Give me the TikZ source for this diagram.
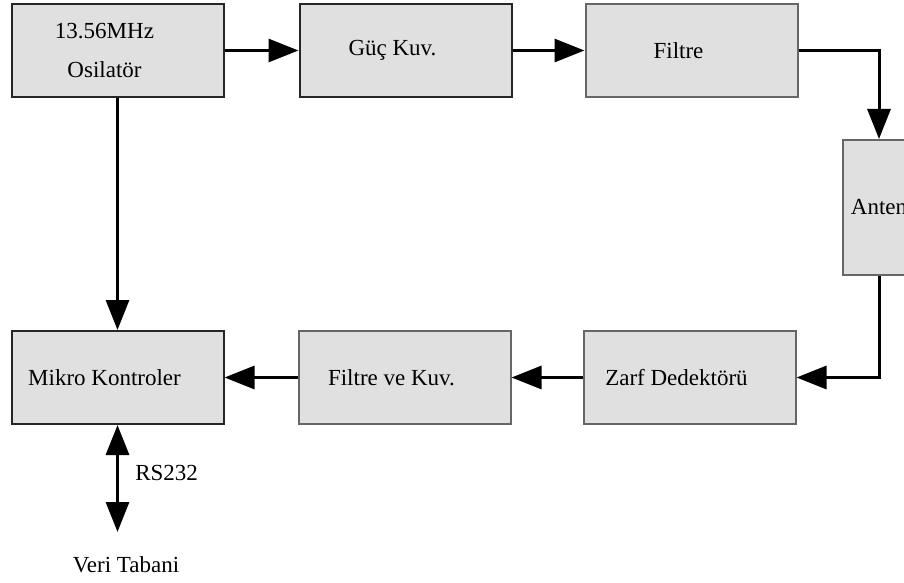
\documentclass[tikz,border=0pt]{standalone}
\usepackage{fontspec}
\setmainfont{Liberation Serif}
\usetikzlibrary{positioning,arrows.meta}

\begin{document}
\begin{tikzpicture}[x=1pt, y=-1pt,
	font=\fontsize{23}{27}\selectfont,
	block/.style={rectangle, draw=black!60, line width=2pt, fill=black!12, inner sep=0pt, minimum width=212pt, minimum height=93pt},
	box/.style={block, execute at begin node={\hspace*{-26pt}}},
	darkbox/.style={box, draw=black!85},
	tallbox/.style={block, minimum width=72pt, minimum height=135pt},
	link/.style={line width=3pt, -{Triangle[length=30pt, width=23pt]}},
	duallink/.style={line width=3pt, {Triangle[length=30pt, width=23pt]}-{Triangle[length=30pt, width=23pt]}}]

	\useasboundingbox (0,0) rectangle (904,583);
	\clip (0,0) rectangle (904,583);

	\node (osc) [darkbox] at (117.5,50.5) {\shortstack{13.56MHz\\[20pt]Osilatör}};
	\node (guc) [darkbox, right=74pt of osc] {Güç Kuv.};
	\node (filt) [box, right=72pt of guc] {Filtre};
	\node (anten) [tallbox] at (879,207.5) {Anten};

	\node (mikro) [darkbox, below=232pt of osc] {Mikro Kontroler};
	\node (fvk) [box, right=73pt of mikro] {Filtre ve Kuv.};
	\node (zarf) [box, right=71pt of fvk] {Zarf Dedektörü};

	\coordinate (dbend) at (mikro.south |- 0,532);
	\node (db) at (126,565) {Veri Tabani};

	\draw [link] (osc.east) -- (guc.west);
	\draw [link] (guc.east) -- (filt.west);
	\draw [link] (filt.east) -| (anten.north);
	\draw [link] (anten.south) |- (zarf.east);
	\draw [link] (zarf.west) -- (fvk.east);
	\draw [link] (fvk.west) -- (fvk.west -| mikro.east);
	\draw [link] (osc.south) -- (osc.south |- mikro.north);
	\draw [duallink] (mikro.south) -- node [pos=0.45, right=13pt] {RS232} (dbend);

\end{tikzpicture}
\end{document}
